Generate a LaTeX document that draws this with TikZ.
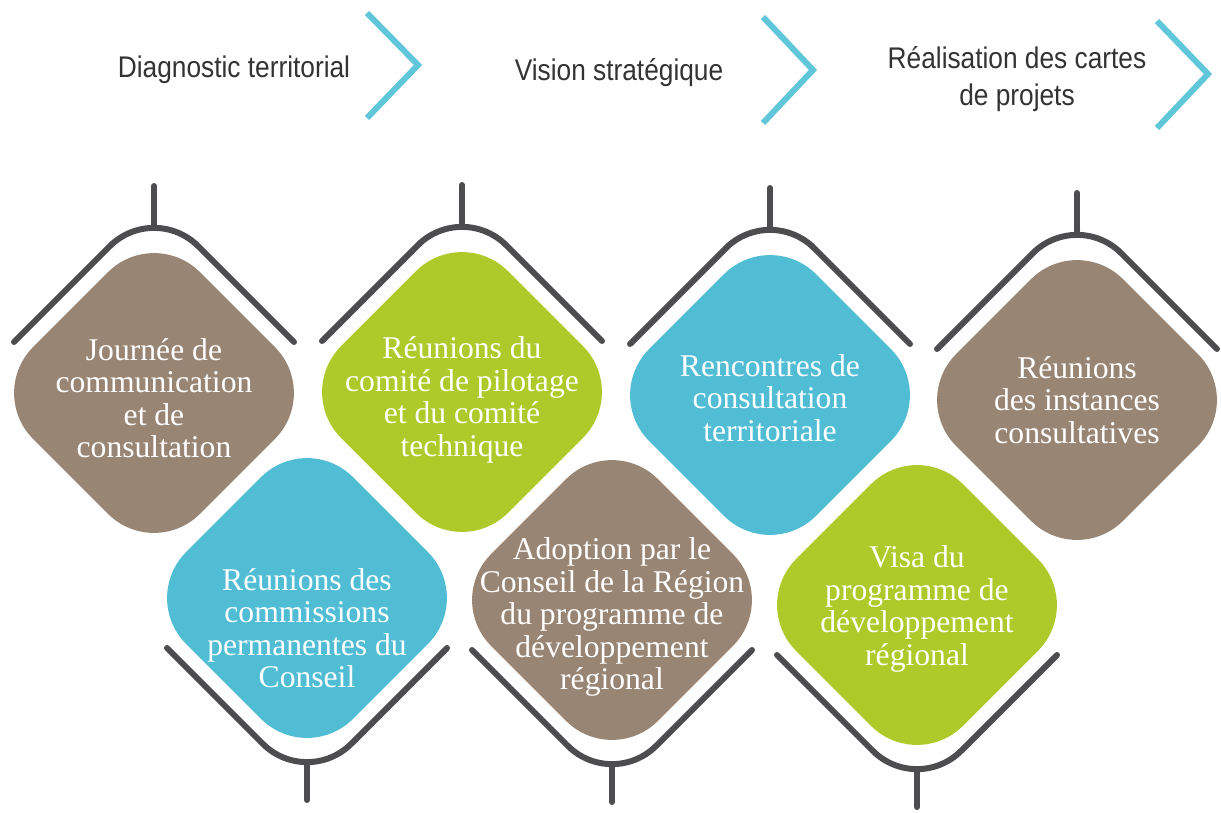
\documentclass[tikz,border=0pt]{standalone}
\usepackage{fontspec}
\newfontfamily\headfont{Liberation Sans}[FakeStretch=0.88]
\newfontfamily\tilefont{Liberation Serif}
\usepackage{tikz}
\usetikzlibrary{shapes.geometric, calc}
\definecolor{tilebrown}{RGB}{152,133,116}
\definecolor{tilegreen}{RGB}{173,202,42}
\definecolor{tileblue}{RGB}{80,189,213}
\definecolor{linegray}{RGB}{77,77,80}
\definecolor{chevblue}{RGB}{96,199,219}

\begin{document}
\begin{tikzpicture}[
    x=0.02cm, y=-0.02cm,
    tile/.style={diamond, minimum width=6.68cm, minimum height=6.68cm,
                 inner sep=0pt, rounded corners=1.3cm},
    tiletext/.style={text=white, align=center, inner sep=0pt,
                 font=\tilefont\fontsize{18}{18.5}\selectfont},
    head/.style={align=center, text=black!80,
                 font=\headfont\fontsize{17}{21}\selectfont},
    chev/.style={chevblue, line width=0.12cm},
    bracket/.style={linegray, line width=0.12cm, line cap=round,
                    rounded corners=1.25cm},
    stem/.style={linegray, line width=0.12cm, line cap=round},
  ]
    \useasboundingbox (0,0) rectangle (1221,812);

    % Phases
    \node[head, anchor=base] (diag) at (234,77) {Diagnostic territorial};
    \node[head, anchor=base] (vision) at (619,80) {Vision stratégique};
    \node[head] (cartes) at (1017,79) {Réalisation des cartes\\de projets};

    \draw[chev] (367,13) -- (418,65) -- (367,118);
    \draw[chev] (763,17) -- (813,70) -- (763,123);
    \draw[chev] (1157,21) -- (1208,74) -- (1157,128);

    % Top row
    \node[tile, fill=tilebrown, label={[tiletext, yshift=-0.1cm]center:{Journée de\\communication\\et de\\consultation}}] (journee) at (154,393) {};
    \node[tile, fill=tilegreen, label={[tiletext, yshift=-0.16cm]center:{Réunions du\\comité de pilotage\\et du comité\\technique}}] (pilotage) at (462,392) {};
    \node[tile, fill=tileblue, label={[tiletext, yshift=-0.06cm]center:{Rencontres de\\consultation\\territoriale}}] (rencontres) at (770,395) {};
    \node[tile, fill=tilebrown, label={[tiletext]center:{Réunions\\des instances\\consultatives}}] (instances) at (1077,400) {};

    % Bottom row
    \node[tile, fill=tileblue, label={[tiletext, yshift=-0.6cm]center:{Réunions des\\commissions\\permanentes du\\Conseil}}] (commissions) at (307,598) {};
    \node[tile, fill=tilebrown, label={[tiletext, yshift=-0.34cm]center:{Adoption par le\\Conseil de la Région\\du programme de\\développement\\régional}}] (adoption) at (612,600) {};
    \node[tile, fill=tilegreen, label={[tiletext, yshift=-0.08cm]center:{Visa du\\programme de\\développement\\régional}}] (visa) at (917,605) {};

    % Brackets
    \foreach \t in {journee, pilotage, rencontres, instances} {
      \draw[bracket] ($(\t)+(-140,-51)$) -- ($(\t)+(0,-191)$) -- ($(\t)+(140,-51)$);
      \draw[stem] ($(\t)+(0,-207)$) -- ($(\t)+(0,-166)$);
    }
    \foreach \t in {commissions, adoption, visa} {
      \draw[bracket] ($(\t)+(-140,50)$) -- ($(\t)+(0,190)$) -- ($(\t)+(140,50)$);
      \draw[stem] ($(\t)+(0,165)$) -- ($(\t)+(0,202)$);
    }
  \end{tikzpicture}
\end{document}
